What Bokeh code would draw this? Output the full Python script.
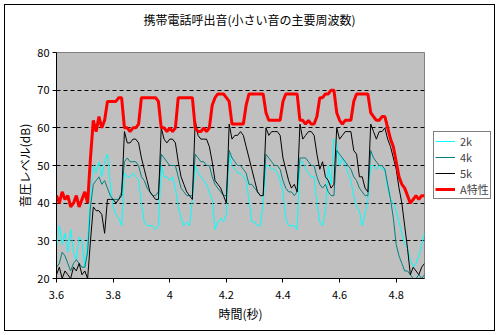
from bokeh.plotting import figure
from bokeh.models import Legend, LegendItem, FixedTicker, Range1d, InlineStyleSheet, Title
from bokeh.embed import file_html
from bokeh.resources import INLINE

FONT = "Noto Sans CJK JP"

title_text = "携帯電話呼出音(小さい音の主要周波数)"
x_label = "時間(秒)"
y_label = "音圧レベル(dB)"
series_names = ["2k", "4k", "5k", "A特性"]
series_colors = ["#00FFFF", "#008080", "#000000", "#FF0000"]

x_ticks = [3.6, 3.8, 4.0, 4.2, 4.4, 4.6, 4.8]
x_tick_labels = ["3.6", "3.8", "4", "4.2", "4.4", "4.6", "4.8"]
y_ticks = [20, 30, 40, 50, 60, 70, 80]

# sample times (s), 10 ms apart
time_s = [round(3.60 + 0.01 * i, 2) for i in range(131)]

# 2 kHz band (dB)
lvl_2k = (
    [28, 34, 29, 32, 27, 33, 27, 25, 31, 30, 23, 30]
    + [42, 50, 48, 51, 47, 51, 53, 45, 39, 37, 36, 34]
    + [48, 47, 47, 48, 47, 46]
    + [40, 35, 34, 34, 34, 33, 34]
    + [50, 47, 47, 46, 47, 44]
    + [39, 36, 34, 35, 34, 41]
    + [50, 48, 47, 46, 45, 43]
    + [41, 33, 35, 36, 35, 37, 53]
    + [50, 49, 48, 48, 47]
    + [46, 41, 35, 35, 34, 34, 40]
    + [50, 50, 49, 49, 48, 46]
    + [43, 36, 34, 34, 34, 33]
    + [51, 51, 49, 48, 47, 47]
    + [40, 35, 34, 38, 50, 45, 57]
    + [56, 50, 52, 50, 48, 46]
    + [42, 39, 38, 34, 37, 41]
    + [50, 50, 49, 50, 49, 49]
    + [44, 41, 40, 38, 35, 32, 29, 28, 25, 23, 24, 26, 29, 32]
)

# 4 kHz band (dB)
lvl_4k = (
    [23, 24, 27, 26, 24, 22, 24, 25, 24, 23, 23, 27]
    + [39, 45, 46, 47, 45, 46, 44, 42, 41, 41, 41, 43]
    + [51, 52, 51, 51, 51, 50]
    + [47, 46, 44, 43, 42, 42, 43]
    + [53, 52, 51, 50, 50, 50]
    + [47, 44, 43, 42, 42, 42]
    + [53, 52, 51, 51, 50, 50]
    + [47, 45, 44, 43, 42, 42, 54]
    + [52, 51, 50, 50, 49]
    + [48, 45, 45, 44, 43, 42, 42]
    + [53, 52, 51, 50, 50, 49]
    + [46, 44, 43, 43, 42, 43]
    + [52, 52, 52, 51, 50, 50]
    + [47, 45, 44, 45, 43, 42, 42]
    + [54, 53, 52, 51, 50, 49]
    + [47, 46, 44, 43, 42, 42]
    + [54, 52, 51, 50, 50, 49]
    + [45, 41, 36, 29, 26, 24, 22, 22, 21, 20, 20, 21, 20, 21]
)

# 5 kHz band (dB)
lvl_5k = (
    [21, 23, 20, 22, 21, 20, 23, 22, 24, 21, 22, 20]
    + [30, 39, 38, 38, 37, 32, 41, 41, 41, 40, 41, 42]
    + [59, 56, 56, 57, 57, 56]
    + [52, 49, 46, 43, 42, 41, 41]
    + [60, 57, 56, 57, 57, 56]
    + [51, 47, 45, 43, 42, 41]
    + [62, 58, 57, 57, 57, 55]
    + [51, 46, 45, 44, 42, 40, 61]
    + [57, 58, 58, 59, 58]
    + [55, 52, 49, 46, 43, 42, 42]
    + [60, 58, 59, 59, 59, 58]
    + [52, 49, 46, 44, 45, 43]
    + [61, 57, 58, 59, 59, 58]
    + [53, 49, 51, 47, 46, 44, 45]
    + [60, 57, 58, 59, 59, 59]
    + [54, 53, 47, 47, 44, 43]
    + [61, 59, 57, 59, 59, 60]
    + [57, 55, 52, 49, 44, 40, 34, 28, 21, 23, 22, 21, 23, 24]
)

# A-weighted level (dB)
lvl_a = (
    [42, 40, 43, 41, 42, 39, 40, 42, 39, 41, 43, 40]
    + [52, 62, 59, 63, 60, 62, 67, 67, 67, 67, 68, 68]
    + [60, 60, 59, 60, 60, 61]
    + [68, 68, 68, 68, 68, 68, 67]
    + [60, 60, 59, 60, 59, 60]
    + [68, 68, 68, 68, 68, 68]
    + [60, 59, 59, 60, 59, 60]
    + [66, 68, 69, 69, 69, 68, 67]
    + [61, 61, 61, 61, 61]
    + [66, 69, 69, 69, 69, 69, 69]
    + [64, 62, 62, 62, 62, 62]
    + [67, 69, 69, 69, 69, 69]
    + [62, 62, 61, 62, 61, 61]
    + [63, 68, 68, 69, 69, 70, 70]
    + [64, 62, 61, 62, 62, 62]
    + [67, 69, 69, 69, 69, 69]
    + [64, 63, 62, 62, 63, 63]
    + [60, 57, 55, 51, 47, 45, 44, 42, 40, 41, 42, 41, 42, 42]
)

series_values = [lvl_2k, lvl_4k, lvl_5k, lvl_a]
series_widths = [1, 1, 1, 3]
for s in series_values:
    assert len(s) == len(time_s), len(s)

border_css = InlineStyleSheet(css="""
:host::after {
  content: "";
  position: absolute;
  left: 4px; top: 4px; width: 491px; height: 327px;
  border: 1px solid black;
  box-sizing: border-box;
  pointer-events: none;
  z-index: 100;
}
""")

p = figure(
    width=504, height=335, output_backend="svg", toolbar_location=None,
    x_range=Range1d(3.6, 4.9), y_range=Range1d(20, 80),
    frame_width=368, frame_height=226,
    min_border_left=56, min_border_right=80, min_border_top=52, min_border_bottom=57,
    stylesheets=[border_css],
)
p.background_fill_color = "#C0C0C0"
p.border_fill_color = "white"
p.outline_line_color = "#808080"
p.outline_line_width = 1

# spacer between the frame and the title, then the title itself
spacer = Title(text=" ", text_font=FONT, text_font_size="12px", standoff=6)
p.add_layout(spacer, "above")
main_title = Title(
    text=title_text, align="left", offset=87, standoff=0,
    text_font=FONT, text_font_size="12px", text_font_style="normal", text_color="black",
)
p.add_layout(main_title, "above")

p.xgrid.visible = False
p.ygrid.ticker = FixedTicker(ticks=y_ticks[1:-1])
p.ygrid.grid_line_color = "black"
p.ygrid.grid_line_dash = "4 3"
p.ygrid.grid_line_width = 1

p.xaxis.ticker = FixedTicker(ticks=x_ticks)
p.xaxis.major_label_overrides = dict(zip(x_ticks, x_tick_labels))
p.yaxis.ticker = FixedTicker(ticks=y_ticks)

for ax in (p.xaxis[0], p.yaxis[0]):
    ax.axis_line_color = "black"
    ax.major_tick_line_color = "black"
    ax.minor_tick_line_color = None
    ax.major_tick_out = 4
    ax.major_tick_in = 0
    ax.major_label_text_font = FONT
    ax.major_label_text_font_size = "11px"
    ax.major_label_text_color = "black"
    ax.axis_label_text_font = FONT
    ax.axis_label_text_font_size = "12px"
    ax.axis_label_text_font_style = "normal"
    ax.axis_label_text_color = "black"

p.xaxis.axis_label = x_label
p.xaxis.major_label_standoff = 8
p.xaxis.axis_label_standoff = 3
p.yaxis.axis_label = y_label
p.yaxis.major_label_standoff = 3
p.yaxis.axis_label_standoff = 1

renderers = []
for vals, col, w in zip(series_values, series_colors, series_widths):
    r = p.line(time_s, vals, line_color=col, line_width=w)
    renderers.append(r)

legend = Legend(
    items=[LegendItem(label=n, renderers=[r]) for n, r in zip(series_names, renderers)],
    location="center_left",
    border_line_color="black", border_line_width=1,
    background_fill_color="white", background_fill_alpha=1.0,
    label_text_font=FONT, label_text_font_size="11px",
    glyph_width=20, glyph_height=14, label_height=14, label_standoff=5,
    spacing=0, padding=1, margin=9,
)
p.add_layout(legend, "right")

open("out.html", "w").write(file_html(p, INLINE))
